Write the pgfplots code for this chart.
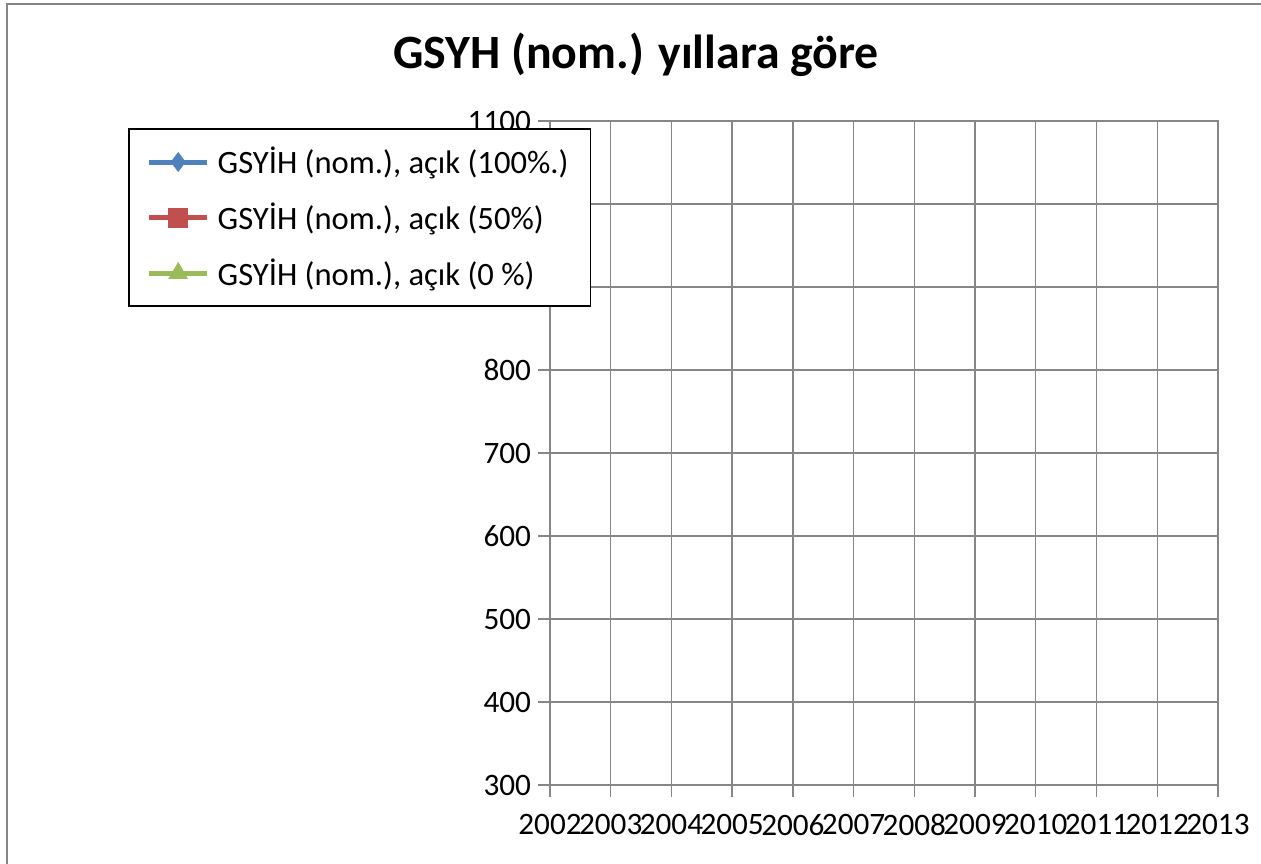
\documentclass[border=0pt]{standalone}
\usepackage{fontspec}
\setmainfont{Carlito}
\usepackage{pgfplots}
\pgfplotsset{compat=1.18}
\definecolor{serA}{HTML}{4F81BD}
\definecolor{serB}{HTML}{C0504D}
\definecolor{serC}{HTML}{9BBB59}
\definecolor{axgray}{HTML}{868686}

\begin{document}
\begin{tikzpicture}
\useasboundingbox (0pt,0pt) rectangle (630.5pt,431.5pt);
\clip (0pt,0pt) rectangle (630.5pt,431.5pt);
\draw[axgray, line width=1.2pt] (3.5pt,-10pt) rectangle (645pt,429.5pt);
\node[font=\fontsize{23.9}{28}\selectfont\bfseries] at (318pt,404pt) {GSYH (nom.) yıllara göre};
\begin{axis}[
  at={(275pt,39pt)}, anchor=south west,
  scale only axis, width=334pt, height=332pt,
  xmin=2002, xmax=2013, ymin=300, ymax=1100,
  xtick={2002,...,2013}, ytick={300,400,...,1100},
  xtick pos=bottom, ytick pos=left,
  tick align=outside, major tick length=6pt,
  grid=major, grid style={axgray, line width=0.7pt},
  axis line style={axgray, line width=0.7pt},
  tick style={axgray, line width=0.7pt},
  /pgf/number format/assume math mode=true,
  /pgf/number format/1000 sep={},
  tick label style={font=\fontsize{15.6}{18}\selectfont, text=black},
  xticklabel style={yshift=-5pt, xshift=0pt},
  legend cell align=left,
  legend style={at={(-0.632,0.989)}, anchor=north west, draw=black, line width=0.9pt,
    fill=white, font=\fontsize{16.3}{19}\selectfont,
    inner xsep=9pt, inner ysep=7pt, row sep=9pt,
    /tikz/every odd column/.append style={column sep=2pt}},
  legend image code/.code={\draw[mark repeat=2,mark phase=2,#1] plot coordinates {(0pt,0pt) (14.5pt,0pt) (29pt,0pt)};},
]
\addlegendimage{color=serA, line width=2.5pt, mark=diamond*, mark size=4.6pt, mark options={fill=serA, line width=0.5pt}}
\addlegendentry{GSYİH (nom.), açık (100\%.)}
\addlegendimage{color=serB, line width=2.5pt, mark=square*, mark size=4.8pt, mark options={fill=serB, line width=0.5pt}}
\addlegendentry{GSYİH (nom.), açık (50\%)}
\addlegendimage{color=serC, line width=2.5pt, mark=triangle*, mark size=5.2pt, mark options={fill=serC, line width=0.5pt}}
\addlegendentry{GSYİH (nom.), açık (0 \%)}
\end{axis}
\end{tikzpicture}
\end{document}
